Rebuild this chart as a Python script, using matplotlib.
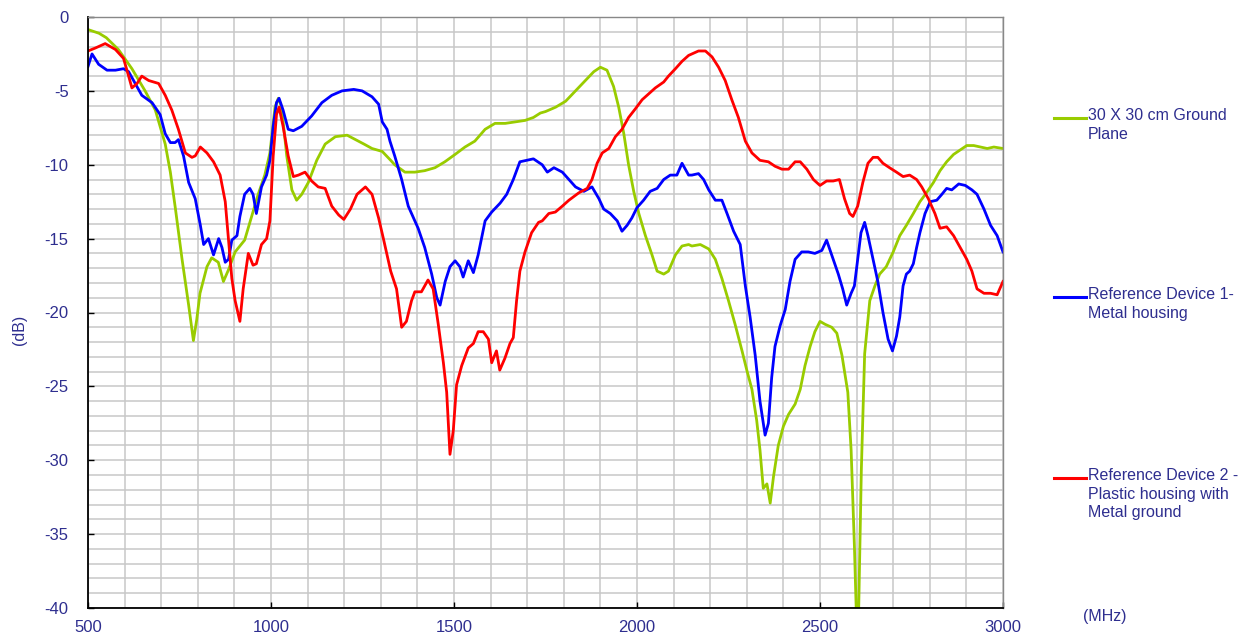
import numpy as np
import matplotlib
matplotlib.use("Agg")
import matplotlib.pyplot as plt
from matplotlib.lines import Line2D

plt.rcParams['font.family'] = ['Liberation Sans', 'DejaVu Sans']
plt.rcParams['axes.unicode_minus'] = False

# (MHz, dB)
ground_plane = [
    (500, -0.85), (530, -1.1), (550, -1.4), (583, -2.2), (620, -3.5), (656, -5.0), (684, -6.3),
    (711, -8.6), (725, -10.5), (739, -13), (757, -16.4), (775, -19.5), (788, -21.9), (797, -20.5),
    (806, -18.7), (825, -16.9), (838, -16.3), (856, -16.6), (870, -17.9), (884, -17.1), (902, -15.9),
    (928, -15.1), (947, -13.5), (965, -12), (983, -10.7), (997, -9.2), (1011, -6.1), (1020, -5.5),
    (1029, -6.1), (1043, -9.4), (1057, -11.7), (1070, -12.4), (1084, -12), (1102, -11.2),
    (1125, -9.7), (1148, -8.6), (1176, -8.1), (1208, -8.0), (1231, -8.3), (1254, -8.6),
    (1276, -8.9), (1304, -9.1), (1327, -9.7), (1338, -10), (1366, -10.5), (1393, -10.5),
    (1420, -10.4), (1448, -10.2), (1475, -9.8), (1503, -9.3), (1530, -8.8), (1557, -8.4),
    (1585, -7.6), (1612, -7.2), (1640, -7.2), (1667, -7.1), (1694, -7.0), (1717, -6.8),
    (1736, -6.5), (1750, -6.4), (1778, -6.1), (1805, -5.7), (1832, -5.0), (1859, -4.3),
    (1882, -3.7), (1900, -3.4), (1918, -3.6), (1936, -4.7), (1950, -6.1), (1964, -7.9),
    (1977, -10), (1991, -11.8), (2005, -13.3), (2023, -14.8), (2041, -16.1), (2055, -17.2),
    (2073, -17.4), (2086, -17.2), (2105, -16.1), (2123, -15.5), (2141, -15.4), (2150, -15.5),
    (2173, -15.4), (2196, -15.7), (2214, -16.4), (2232, -17.7), (2250, -19.2), (2268, -20.8),
    (2287, -22.6), (2300, -23.9), (2314, -25.2), (2327, -27.3), (2336, -29.3), (2345, -31.9),
    (2355, -31.6), (2364, -32.9), (2373, -31.1), (2386, -29), (2400, -27.7), (2414, -26.9),
    (2432, -26.2), (2446, -25.2), (2459, -23.6), (2473, -22.3), (2486, -21.3), (2500, -20.6),
    (2514, -20.8), (2532, -21), (2546, -21.4), (2560, -22.9), (2576, -25.4), (2585, -29.3),
    (2594, -35.8), (2600, -41), (2605, -41), (2613, -30.6), (2622, -22.8), (2636, -19.2),
    (2650, -18.2), (2663, -17.4), (2681, -16.9), (2700, -15.9), (2718, -14.8), (2736, -14.1),
    (2755, -13.3), (2773, -12.5), (2791, -11.9), (2810, -11.2), (2828, -10.4), (2846, -9.8),
    (2865, -9.3), (2883, -9.0), (2901, -8.7), (2920, -8.7), (2938, -8.8), (2957, -8.9),
    (2975, -8.8), (3000, -8.9),
]

device1 = [
    (500, -3.35), (511, -2.5), (529, -3.2), (552, -3.6), (575, -3.6), (597, -3.5), (611, -3.7),
    (629, -4.5), (647, -5.3), (675, -5.8), (697, -6.6), (711, -7.9), (725, -8.5), (738, -8.5),
    (747, -8.3), (761, -9.4), (775, -11.2), (793, -12.3), (807, -14.1), (816, -15.4), (829, -15),
    (843, -16.1), (857, -15), (866, -15.6), (875, -16.6), (884, -16.4), (893, -15.1), (907, -14.8),
    (915, -13.5), (928, -12), (942, -11.6), (951, -12), (960, -13.3), (974, -11.5), (988, -10.7),
    (997, -9.7), (1006, -7.4), (1015, -5.8), (1022, -5.5), (1033, -6.3), (1047, -7.6),
    (1061, -7.7), (1084, -7.4), (1111, -6.7), (1139, -5.8), (1166, -5.3), (1194, -5.0),
    (1226, -4.9), (1249, -5.0), (1276, -5.4), (1294, -5.9), (1304, -7.1), (1317, -7.6),
    (1325, -8.4), (1338, -9.4), (1357, -11), (1375, -12.8), (1402, -14.3), (1420, -15.6),
    (1439, -17.4), (1453, -19), (1462, -19.5), (1476, -17.9), (1489, -16.9), (1503, -16.5),
    (1516, -16.9), (1525, -17.6), (1539, -16.5), (1553, -17.3), (1566, -16.1), (1585, -13.8),
    (1603, -13.2), (1626, -12.6), (1644, -12), (1662, -11), (1680, -9.8), (1699, -9.7),
    (1717, -9.6), (1741, -10), (1755, -10.5), (1773, -10.2), (1796, -10.5), (1814, -11),
    (1832, -11.5), (1855, -11.8), (1877, -11.5), (1896, -12.3), (1909, -13.0), (1927, -13.3),
    (1946, -13.8), (1959, -14.5), (1973, -14.1), (1986, -13.6), (2000, -12.9), (2018, -12.4),
    (2036, -11.8), (2055, -11.6), (2073, -11), (2091, -10.7), (2109, -10.7), (2123, -9.9),
    (2141, -10.7), (2150, -10.7), (2168, -10.6), (2182, -11.0), (2196, -11.7), (2214, -12.4),
    (2232, -12.4), (2246, -13.3), (2264, -14.5), (2282, -15.4), (2296, -18.2), (2309, -20.3),
    (2323, -22.9), (2336, -26), (2350, -28.3), (2359, -27.5), (2368, -24.4), (2377, -22.3),
    (2391, -20.9), (2405, -19.8), (2418, -17.9), (2432, -16.4), (2450, -15.9), (2468, -15.9),
    (2486, -16), (2505, -15.8), (2518, -15.1), (2532, -16.1), (2550, -17.4), (2562, -18.4),
    (2573, -19.5), (2585, -18.7), (2594, -18.2), (2603, -16.4), (2612, -14.6), (2622, -13.9),
    (2631, -14.8), (2645, -16.4), (2658, -17.9), (2672, -20), (2686, -21.8), (2698, -22.6),
    (2709, -21.6), (2718, -20.3), (2727, -18.2), (2736, -17.4), (2745, -17.2), (2755, -16.7),
    (2764, -15.6), (2773, -14.6), (2787, -13.3), (2801, -12.5), (2819, -12.4), (2833, -12.0),
    (2846, -11.6), (2860, -11.7), (2879, -11.3), (2897, -11.4), (2915, -11.7), (2929, -12.0),
    (2948, -13.0), (2966, -14.1), (2984, -14.8), (3000, -15.9),
]

device2 = [
    (500, -2.3), (520, -2.1), (547, -1.8), (575, -2.2), (597, -2.8), (611, -4.0), (620, -4.8),
    (634, -4.5), (647, -4.0), (666, -4.3), (693, -4.5), (711, -5.3), (729, -6.3), (747, -7.6),
    (766, -9.2), (784, -9.5), (793, -9.4), (807, -8.8), (825, -9.2), (843, -9.8), (861, -10.7),
    (875, -12.5), (884, -15.1), (893, -17.7), (902, -19.2), (915, -20.6), (924, -18.4),
    (938, -16), (951, -16.8), (960, -16.7), (974, -15.4), (988, -15), (997, -13.8), (1006, -9.4),
    (1015, -6.6), (1022, -6.1), (1033, -7.4), (1047, -9.4), (1061, -10.8), (1075, -10.7),
    (1093, -10.5), (1111, -11.1), (1129, -11.5), (1148, -11.6), (1166, -12.8), (1185, -13.4),
    (1199, -13.7), (1217, -13), (1235, -12), (1258, -11.5), (1276, -12), (1294, -13.6),
    (1308, -15.1), (1327, -17.2), (1343, -18.4), (1357, -21.0), (1370, -20.6), (1384, -19.2),
    (1393, -18.6), (1411, -18.6), (1429, -17.8), (1443, -18.4), (1457, -20.8), (1471, -23.4),
    (1480, -25.4), (1489, -29.6), (1498, -28), (1507, -24.9), (1521, -23.6), (1539, -22.4),
    (1553, -22.1), (1566, -21.3), (1580, -21.3), (1594, -21.8), (1603, -23.4), (1616, -22.6),
    (1625, -23.9), (1639, -23.1), (1653, -22.1), (1662, -21.7), (1671, -19.2), (1680, -17.2),
    (1694, -15.9), (1712, -14.6), (1731, -13.9), (1741, -13.8), (1759, -13.3), (1777, -13.2),
    (1796, -12.8), (1814, -12.4), (1841, -11.9), (1864, -11.6), (1877, -11), (1891, -9.9),
    (1905, -9.2), (1923, -8.9), (1941, -8.1), (1959, -7.6), (1977, -6.8), (1996, -6.2),
    (2014, -5.6), (2032, -5.2), (2050, -4.8), (2073, -4.4), (2086, -4.0), (2105, -3.5),
    (2123, -3.0), (2141, -2.6), (2168, -2.3), (2187, -2.3), (2205, -2.7), (2223, -3.4),
    (2241, -4.3), (2259, -5.6), (2277, -6.8), (2296, -8.4), (2314, -9.2), (2336, -9.7),
    (2359, -9.8), (2377, -10.1), (2396, -10.3), (2414, -10.3), (2432, -9.8), (2446, -9.8),
    (2464, -10.3), (2482, -11.0), (2500, -11.4), (2518, -11.1), (2536, -11.1), (2553, -11.0),
    (2567, -12.3), (2581, -13.3), (2590, -13.5), (2603, -12.8), (2617, -11.2), (2631, -9.9),
    (2645, -9.5), (2658, -9.5), (2672, -9.9), (2690, -10.2), (2709, -10.5), (2727, -10.8),
    (2745, -10.7), (2764, -11), (2778, -11.5), (2796, -12.3), (2814, -13.3), (2828, -14.3),
    (2846, -14.2), (2865, -14.8), (2883, -15.6), (2901, -16.4), (2915, -17.2), (2929, -18.4),
    (2948, -18.7), (2966, -18.7), (2984, -18.8), (3000, -17.9),
]

labels = ["30 X 30 cm Ground\nPlane",
          "Reference Device 1-\nMetal housing",
          "Reference Device 2 -\nPlastic housing with\nMetal ground"]
colors = ["#99CC00", "#0000FF", "#FF0000"]
x_ticks = [500, 1000, 1500, 2000, 2500, 3000]
y_ticks = [0, -5, -10, -15, -20, -25, -30, -35, -40]

txt = "#2E2E8F"
W, H = 1257, 642
fig = plt.figure(figsize=(W / 100, H / 100), dpi=100)
ax = fig.add_axes([88 / W, 1 - 608 / H, (1003 - 88) / W, (608 - 17) / H])

for data, c in zip([ground_plane, device1, device2], colors):
    f, db = np.array(data).T
    ax.plot(f, db, color=c, lw=2.0, solid_joinstyle='round')

ax.set_xlim(500, 3000)
ax.set_ylim(-40, 0)
ax.set_xticks(x_ticks)
ax.set_yticks(y_ticks)
ax.set_xticks(np.arange(500, 3001, 100), minor=True)
ax.set_yticks(np.arange(-40, 1, 1), minor=True)
ax.grid(True, which='both', color='#C8C8C8', lw=1.1)
ax.set_axisbelow(True)
ax.tick_params(which='major', direction='in', length=4, width=1, color='black',
               labelsize=12, labelcolor=txt)
ax.tick_params(axis='y', pad=14)
ax.tick_params(axis='x', pad=9)
ax.tick_params(which='minor', length=0)
for s in ['left', 'bottom']:
    ax.spines[s].set_color('black')
    ax.spines[s].set_linewidth(1.3)
for s in ['top', 'right']:
    ax.spines[s].set_color('#888888')
    ax.spines[s].set_linewidth(1.0)

fig.text(20 / W, 1 - 330 / H, "(dB)", rotation=90, color=txt, fontsize=11.5,
         ha='center', va='center')
fig.text(1105 / W, 1 - 617 / H, "(MHz)", color=txt, fontsize=11.5, ha='center', va='center')

# legend entries spread down the right side
for lab, c, yl in zip(labels, colors, [118, 297, 478]):
    fig.add_artist(Line2D([1054 / W, 1086 / W], [1 - yl / H, 1 - yl / H],
                          color=c, lw=2.2, transform=fig.transFigure))
    fig.text(1088 / W, 1 - (yl - 10) / H, lab, color=txt, fontsize=11.5,
             ha='left', va='top', linespacing=1.3)

fig.savefig("out.png", dpi=100)
